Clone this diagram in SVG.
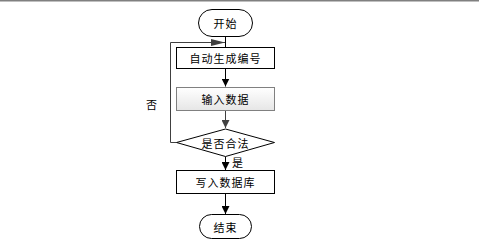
<svg xmlns="http://www.w3.org/2000/svg" width="479" height="247" viewBox="0 0 479 247">
<defs>
<style>
.t{font-family:"Noto Sans CJK SC","Liberation Sans",sans-serif;font-size:11px;letter-spacing:1px;text-anchor:middle;dominant-baseline:central;fill:#000}
.s{fill:#fff;stroke:#000;stroke-width:1}
.c{fill:none;stroke:#000;stroke-width:1}
</style>
<linearGradient id="g" x1="0" y1="0" x2="0" y2="1">
<stop offset="0" stop-color="#ffffff"/>
<stop offset="1" stop-color="#e6e6e6"/>
</linearGradient>
<marker id="a" viewBox="0 0 10 10" refX="10" refY="5" markerWidth="8" markerHeight="8" markerUnits="userSpaceOnUse" orient="auto">
<path d="M0,0L10,5L0,10z" fill="#000"/>
</marker>
<marker id="ag" viewBox="0 0 10 10" refX="10" refY="5" markerWidth="8" markerHeight="8" markerUnits="userSpaceOnUse" orient="auto">
<path d="M0,0L10,5L0,10z" fill="#404040"/>
</marker>
<marker id="al" viewBox="0 0 14 7" refX="14" refY="3.5" markerWidth="14" markerHeight="7" markerUnits="userSpaceOnUse" orient="auto">
<path d="M0,0L14,3.5L0,7z" fill="#404040"/>
</marker>
</defs>
<rect width="479" height="247" fill="#fff"/>
<line x1="0" y1="0.75" x2="479" y2="0.75" stroke="#808080" stroke-width="1.5"/>
<g id="connectors">
<line class="c" x1="225.5" y1="36.5" x2="225.5" y2="47"/>
<line class="c" x1="225.5" y1="68.5" x2="225.5" y2="86.5" marker-end="url(#a)"/>
<line x1="225.5" y1="110.5" x2="225.5" y2="128" stroke="#404040" stroke-width="1" marker-end="url(#ag)"/>
<line class="c" x1="225.5" y1="156.5" x2="225.5" y2="170" marker-end="url(#a)"/>
<line class="c" x1="225.5" y1="193.5" x2="225.5" y2="214" marker-end="url(#a)"/>
<polyline fill="none" stroke="#404040" stroke-width="1" points="176.5,142.5 170.5,142.5 170.5,42.5 225,42.5" marker-end="url(#al)"/>
<text class="t" x="152" y="103.5">否</text>
<text class="t" x="238" y="162">是</text>
</g>
<g id="start">
<rect class="s" x="198.5" y="9.5" width="54" height="27" rx="13.5"/>
<text class="t" x="225.5" y="23">开始</text>
</g>
<g id="gen">
<rect class="s" x="176.5" y="47.5" width="98" height="21"/>
<text class="t" x="225.5" y="58">自动生成编号</text>
</g>
<g id="input">
<rect x="176.5" y="87.5" width="98" height="23" fill="url(#g)" stroke="#808080" stroke-width="1"/>
<text class="t" x="225.5" y="99">输入数据</text>
</g>
<g id="check">
<polygon class="s" points="225.5,129 274.5,142.5 225.5,156.5 176.5,142.5"/>
<text class="t" x="225.5" y="143">是否合法</text>
</g>
<g id="write">
<rect class="s" x="176.5" y="170.5" width="98" height="23"/>
<text class="t" x="225.5" y="182">写入数据库</text>
</g>
<g id="end">
<rect class="s" x="199.5" y="214.5" width="52" height="24" rx="12"/>
<text class="t" x="225.5" y="226.5">结束</text>
</g>
</svg>
